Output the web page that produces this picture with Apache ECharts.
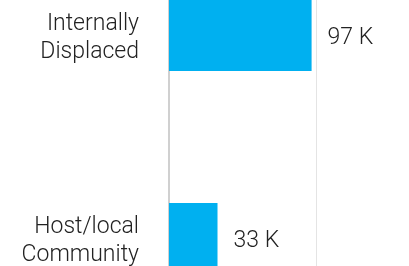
<!DOCTYPE html>
<html>
<head>
<meta charset="utf-8">
<script src="https://cdn.jsdelivr.net/npm/echarts@6/dist/echarts.min.js"></script>
<style>
  html, body { margin: 0; padding: 0; background: #fff; }
  #chart { width: 409px; height: 266px; }
</style>
</head>
<body>
<div id="chart"></div>
<script>
// categories, top to bottom
var categories = ['Internally\nDisplaced', 'Host/local\nCommunity']
var values = [97000, 33000]
var xTicks = [0, 100000, 200000]

var chart = echarts.init(document.getElementById('chart'))
chart.setOption({
  animation: false,
  grid: {
    left: 169,
    top: -66,
    width: 294,
    height: 406,
    outerBoundsMode: 'none'
  },
  xAxis: {
    type: 'value',
    min: xTicks[0],
    max: xTicks[xTicks.length - 1],
    interval: xTicks[1] - xTicks[0],
    axisLabel: { show: false },
    axisLine: { show: false },
    axisTick: { show: false },
    splitLine: {
      show: true,
      lineStyle: { color: '#e4e4e4', width: 1 }
    }
  },
  yAxis: {
    type: 'category',
    inverse: true,
    data: categories,
    axisTick: { show: false },
    axisLine: {
      show: true,
      lineStyle: { color: '#d0d0d0', width: 2 }
    },
    axisLabel: {
      margin: 30,
      align: 'right',
      // small spacer line on top nudges the two text lines down a bit
      formatter: function (v) {
        return '{s| }\n' + v.split('\n').map(function (l) {
          return '{t|' + l + '}'
        }).join('\n')
      },
      rich: {
        s: { fontSize: 1, lineHeight: 6 },
        t: {
          color: '#222',
          fontFamily: 'Roboto',
          fontWeight: 300,
          fontSize: 23,
          lineHeight: 28,
          align: 'right'
        }
      }
    }
  },
  series: [
    {
      type: 'bar',
      data: values,
      barWidth: 71,
      itemStyle: { color: '#00b0f0' },
      label: {
        show: true,
        position: 'right',
        distance: 16,
        offset: [0, 3],
        color: '#222',
        fontFamily: 'Roboto',
        fontWeight: 300,
        fontSize: 23,
        formatter: function (p) {
          return Math.round(p.value / 1000) + ' K'
        }
      }
    }
  ]
})
</script>
</body>
</html>
